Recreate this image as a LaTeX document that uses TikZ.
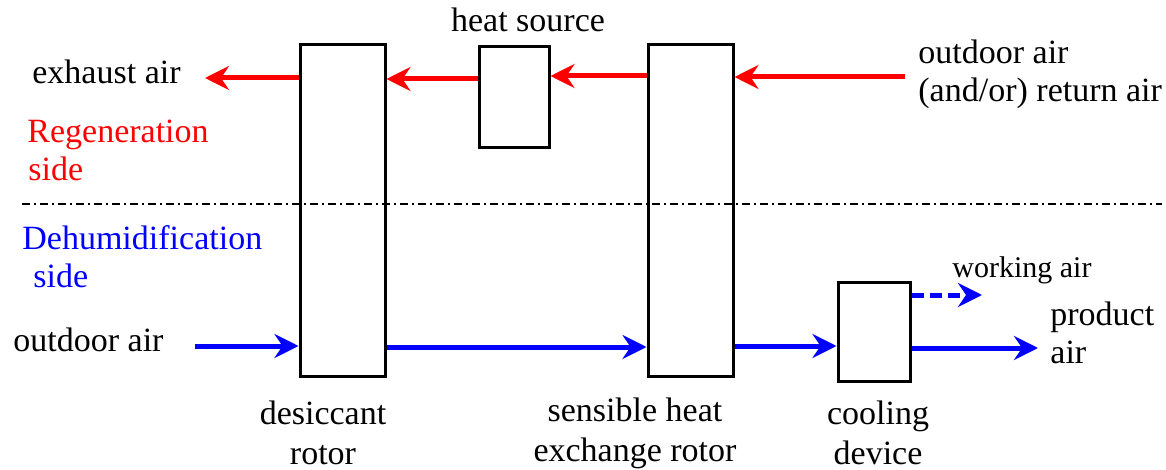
\documentclass[tikz,border=0pt]{standalone}
\usepackage{fontspec}
\setmainfont{Liberation Serif}
\usetikzlibrary{arrows.meta}
\begin{document}
\begin{tikzpicture}[x=0.5pt,y=-0.5pt,
  box/.style={draw=black,line width=1.5pt,inner sep=0pt},
  lbl/.style={inner sep=0pt,font=\fontsize{17}{19}\selectfont},
  blbl/.style={inner sep=0pt,font=\fontsize{17}{20}\selectfont},
  slbl/.style={inner sep=0pt,font=\fontsize{15}{18}\selectfont},
  flow/.style={line width=2.5pt,-{Stealth[length=12pt,width=12pt,inset=4pt]}},
  regen/.style={flow,draw=red},
  dehum/.style={flow,draw=blue}]
\useasboundingbox (0,0) rectangle (1166,470);
% separator
\draw[line width=0.6pt,dash pattern=on 4pt off 2pt on 1pt off 2pt] (22,204) -- (1162,204);
% boxes
\node[box,minimum width=42.5pt,minimum height=165.5pt] (dr) at (342.5,210.5) {};
\node[box,minimum width=35pt,minimum height=50.5pt] (hs) at (514,97.5) {};
\node[box,minimum width=42.5pt,minimum height=165.5pt] (hx) at (690.5,210.5) {};
\node[box,minimum width=36pt,minimum height=49.5pt] (cd) at (874,331.5) {};
% free ends
\coordinate (oaR) at (905,77);
\coordinate (exh) at (205,78);
\coordinate (oaD) at (195,346);
\coordinate (wa) at (982,295);
\coordinate (pa) at (1038,348);
% red arrows
\draw[regen] (oaR) -- (hx.east |- oaR);
\draw[regen] (hx.west |- 0,76) -- (hs.east |- 0,76);
\draw[regen] (hs.west |- 0,79) -- (dr.east |- 0,79);
\draw[regen] (dr.west |- exh) -- (exh);
% blue arrows
\draw[dehum] (oaD) -- (dr.west |- oaD);
\draw[dehum] (dr.east |- 0,347) -- (hx.west |- 0,347);
\draw[dehum] (hx.east |- 0,346) -- (cd.west |- 0,346);
\draw[dehum] (cd.east |- pa) -- (pa);
\draw[dehum,dash pattern=on 6pt off 3pt] (cd.east |- wa) -- (wa);
% labels
\node[lbl] (thx) at (528,20) {heat source};
\node[lbl,anchor=west] (texh) at (32,72) {exhaust air};
\node[lbl,anchor=west,align=left] (toa) at (918,74) {outdoor air\\(and/or) return air};
\node[lbl,anchor=west,align=left,text=red] (treg) at (27,150) {Regeneration\\\hspace*{0.5pt}side};
\node[lbl,anchor=west,align=left,text=blue] (tdeh) at (22,257) {Dehumidification\\\hspace*{5.5pt}side};
\node[lbl,anchor=west] (toad) at (13,340) {outdoor air};
\node[blbl,align=center] (tdr) at (323,433) {desiccant\\rotor};
\node[blbl,align=center] (thxr) at (635,433) {sensible heat\\exchange rotor};
\node[blbl,align=center] (tcd) at (878,433) {cooling\\device};
\node[slbl,anchor=west] (twa) at (952,270) {working air};
\node[lbl,anchor=west,align=left] (tpa) at (1050,333) {product\\air};
\end{tikzpicture}
\end{document}
